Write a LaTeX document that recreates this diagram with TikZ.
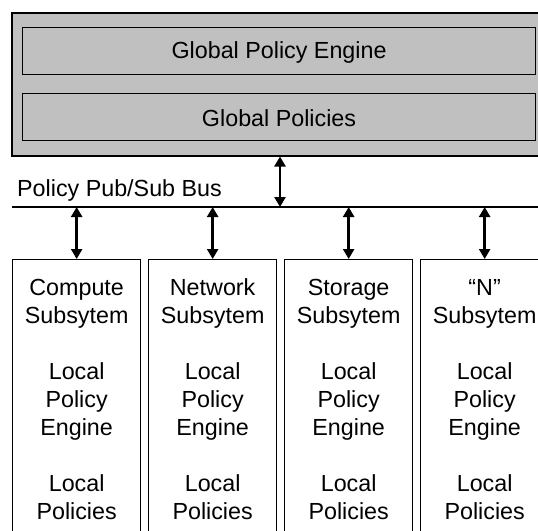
\documentclass[tikz,border=0pt]{standalone}
\usepackage{fontspec}
\setmainfont{Liberation Sans}
\usetikzlibrary{arrows.meta}
\definecolor{panelgray}{HTML}{C0C0C0}
\tikzset{
  panel/.style={draw=black, line width=1.5pt, fill=panelgray, inner sep=0pt, anchor=north west},
  layer/.style={draw=black, line width=1.1pt, fill=panelgray, inner sep=0pt, anchor=north west,
    minimum width=513pt, minimum height=47pt},
  subsys/.style={draw=black, line width=1.3pt, fill=white, inner sep=0pt, anchor=north west,
    minimum width=128pt, minimum height=290pt},
  label/.style={inner sep=0pt, font=\fontsize{23.3}{28}\selectfont},
  subtext/.style={label, align=center, anchor=north},
  bus/.style={line width=2.5pt},
  link/.style={line width=2.6pt, {Triangle[length=10pt,width=11pt]}-{Triangle[length=10pt,width=11pt]}}
}
\begin{document}
\begin{tikzpicture}[x=1pt,y=-1pt]
  \useasboundingbox (0,0) rectangle (538,530);
  \clip (0,0) rectangle (538,530);

  % global tier
  \node[panel, minimum width=545pt, minimum height=143pt] (global) at (11,12) {};
  \node[layer] (engine) at (22,27) {};
  \node[label] at ([yshift=-1.5pt]engine.center) {Global Policy Engine};
  \node[layer] (policies) at (22,93) {};
  \node[label] at ([yshift=-1.5pt]policies.center) {Global Policies};

  % pub/sub bus
  \coordinate (busL) at (12,207);
  \coordinate (busR) at (560,207);
  \draw[bus] (busL) -- (busR);
  \node[label, anchor=base west] (buslabel) at (17,196) {Policy Pub/Sub Bus};
  \coordinate (b0) at (280,207);
  \draw[link] (global.south -| b0) -- (b0);

  % subsystems
  \node[subsys] (s1) at (12,259) {};
  \node[subsys] (s2) at (148,259) {};
  \node[subsys] (s3) at (284,259) {};
  \node[subsys] (s4) at (420,259) {};

  \node[subtext] at ([yshift=-17pt]s1.north) {\strut Compute\\Subsytem\\[28pt]Local\\Policy\\Engine\\[28pt]Local\\Policies};
  \node[subtext] at ([yshift=-17pt]s2.north) {\strut Network\\Subsytem\\[28pt]Local\\Policy\\Engine\\[28pt]Local\\Policies};
  \node[subtext] at ([yshift=-17pt]s3.north) {\strut Storage\\Subsytem\\[28pt]Local\\Policy\\Engine\\[28pt]Local\\Policies};
  \node[subtext] at ([yshift=-17pt]s4.north) {\strut “N”\\Subsytem\\[28pt]Local\\Policy\\Engine\\[28pt]Local\\Policies};

  \foreach \s in {s1,s2,s3,s4}{
    \coordinate (b\s) at (\s.north |- busL);
    \draw[link] (b\s) -- (\s.north);
  }
\end{tikzpicture}
\end{document}
